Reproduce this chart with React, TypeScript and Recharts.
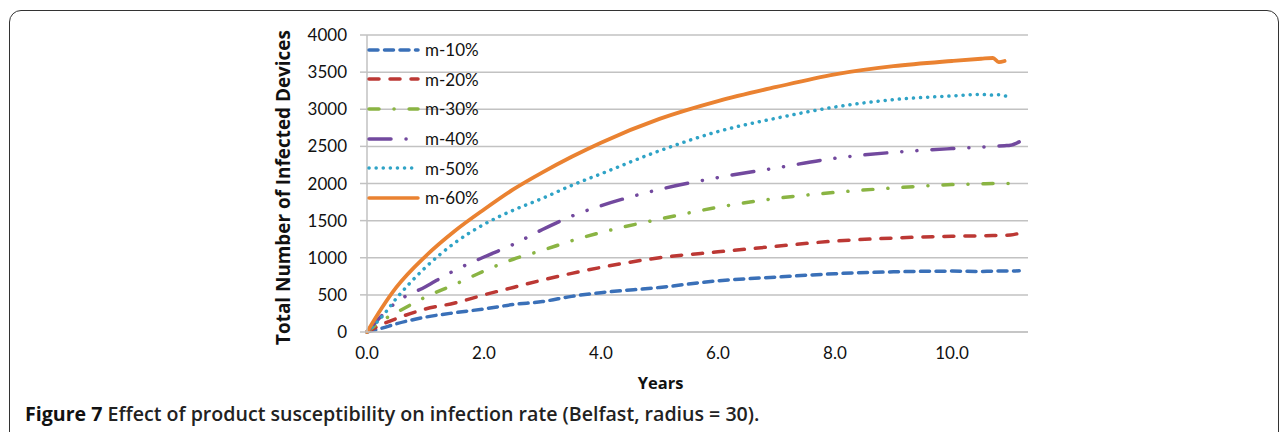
import React from "react";
import { CartesianGrid, Line, LineChart, XAxis, YAxis } from "recharts";

// Years since start (x values)
const years = [0, 0.25, 0.5, 1, 1.5, 2, 2.5, 3, 3.5, 4, 5, 6, 7, 8, 9, 10, 10.5, 10.7, 10.8, 10.9, 11, 11.15];

const m10 = [0, 50, 110, 200, 260, 310, 370, 410, 480, 530, 600, 690, 740, 785, 810, 820, 815, 820, 820, 820, 820, 825];
const m20 = [0, 100, 180, 310, 390, 500, 600, 700, 790, 870, 1000, 1080, 1155, 1225, 1265, 1290, 1295, 1300, 1300, 1302, 1305, 1330];
const m30 = [0, 150, 260, 470, 640, 820, 980, 1100, 1230, 1340, 1520, 1680, 1800, 1880, 1940, 1985, 1995, 2000, 2000, 2000, 2000, null];
const m40 = [0, 220, 400, 610, 830, 1010, 1180, 1380, 1560, 1700, 1920, 2080, 2210, 2340, 2420, 2470, 2490, 2500, 2505, 2510, 2515, 2560];
const m50 = [0, 200, 450, 870, 1200, 1450, 1640, 1800, 1975, 2130, 2440, 2700, 2880, 3030, 3130, 3180, 3200, 3190, 3195, 3180, 3170, null];
const m60 = [0, 320, 600, 1020, 1360, 1650, 1920, 2150, 2360, 2550, 2870, 3110, 3300, 3470, 3580, 3650, 3680, 3690, 3635, 3650, null, null];

const yTicks = [0, 500, 1000, 1500, 2000, 2500, 3000, 3500, 4000];
const xTicks = [0, 2, 4, 6, 8, 10];

const series = [
  { key: "m10", name: "m-10%", values: m10, color: "#3A70B8", dash: "9 6.5" },
  { key: "m20", name: "m-20%", values: m20, color: "#BC3834", dash: "10 11" },
  { key: "m30", name: "m-30%", values: m30, color: "#8AB443", dash: "10 15 0.1 15" },
  { key: "m40", name: "m-40%", values: m40, color: "#72499E", dash: "22 15 0.1 15 0.1 15" },
  { key: "m50", name: "m-50%", values: m50, color: "#2FA3C6", dash: "0.1 7" },
  { key: "m60", name: "m-60%", values: m60, color: "#EA8231", dash: undefined as string | undefined }
];

const data = years.map((year, i) => {
  const row: Record<string, number | null> = { year };
  series.forEach((s) => {
    row[s.key] = s.values[i];
  });
  return row;
});

const tickFont = { fontFamily: "Lato, 'Open Sans', sans-serif", fontSize: 17, fill: "#111" };
const titleFont = "'Open Sans', Lato, sans-serif";
const gridColor = "#C2C2C2";

// legend drawn as an overlay so it doesn't eat into the plot margins
function LegendBox() {
  return (
    <div style={{ position: "absolute", left: 366, top: 35, display: "flex", flexDirection: "column" }}>
      {series.map((s) => (
        <div key={s.key} style={{ display: "flex", alignItems: "center", height: 29.6 }}>
          <svg width={56} height={10}>
            <line
              x1={3}
              x2={52}
              y1={5}
              y2={5}
              stroke={s.color}
              strokeWidth={3.5}
              strokeDasharray={s.dash}
              strokeLinecap="round"
            />
          </svg>
          <span style={{ fontFamily: "Lato, sans-serif", fontSize: 17, color: "#111", marginLeft: 3 }}>
            {s.name}
          </span>
        </div>
      ))}
    </div>
  );
}

// x axis title sits left of the plot centre in the original
function YearsLabel(props: any) {
  const vb = props.viewBox || {};
  return (
    <text
      x={vb.x + vb.width / 2 - 37}
      y={vb.y + 57}
      textAnchor="middle"
      fontFamily={titleFont}
      fontWeight={700}
      fontSize={16.5}
      fill="#111"
    >
      Years
    </text>
  );
}

export default function App() {
  return (
    <div
      style={{
        position: "absolute",
        left: 0,
        top: 0,
        width: 1282,
        height: 432,
        background: "#fff",
        overflow: "hidden"
      }}
    >
      <div
        style={{
          position: "absolute",
          left: 9,
          top: 10,
          width: 1268,
          height: 460,
          border: "1.5px solid #333",
          borderRadius: 12
        }}
      />
      <div style={{ position: "absolute", left: 0, top: 0 }}>
        <LineChart
          width={1282}
          height={432}
          data={data}
          margin={{ top: 35, right: 254, bottom: 40, left: 265 }}
        >
          <CartesianGrid vertical={false} stroke={gridColor} strokeWidth={1.5} />
          <XAxis
            dataKey="year"
            type="number"
            domain={[0, 11.3]}
            ticks={xTicks}
            tickFormatter={(v) => Number(v).toFixed(1)}
            tick={tickFont}
            tickLine={false}
            axisLine={{ stroke: gridColor, strokeWidth: 1.5 }}
            tickMargin={9}
            height={60}
            label={<YearsLabel />}
          />
          <YAxis
            type="number"
            domain={[0, 4000]}
            ticks={yTicks}
            tick={tickFont}
            tickSize={7}
            tickMargin={13}
            tickLine={{ stroke: gridColor, strokeWidth: 1.5 }}
            axisLine={{ stroke: gridColor, strokeWidth: 1.5 }}
            width={102}
            label={{
              value: "Total Number of Infected Devices",
              angle: -90,
              position: "insideLeft",
              offset: 18,
              dy: 4,
              style: {
                textAnchor: "middle",
                fontFamily: titleFont,
                fontWeight: 700,
                fontSize: 18.9,
                fill: "#111"
              }
            }}
          />
          {series.map((s) => (
            <Line
              key={s.key}
              dataKey={s.key}
              name={s.name}
              type="monotone"
              stroke={s.color}
              strokeWidth={s.dash ? 3.5 : 3.8}
              strokeDasharray={s.dash}
              strokeLinecap="round"
              dot={false}
              activeDot={false}
              isAnimationActive={false}
            />
          ))}
        </LineChart>
      </div>
      <LegendBox />
      <div
        style={{
          position: "absolute",
          left: 25,
          top: 403,
          fontFamily: titleFont,
          fontSize: 19.6,
          lineHeight: "22px",
          fontWeight: 600,
          color: "#222",
          whiteSpace: "nowrap"
        }}
      >
        <span style={{ fontWeight: 700, color: "#111" }}>Figure 7</span> Effect of product susceptibility on
        infection rate (Belfast, radius = 30).
      </div>
    </div>
  );
}
